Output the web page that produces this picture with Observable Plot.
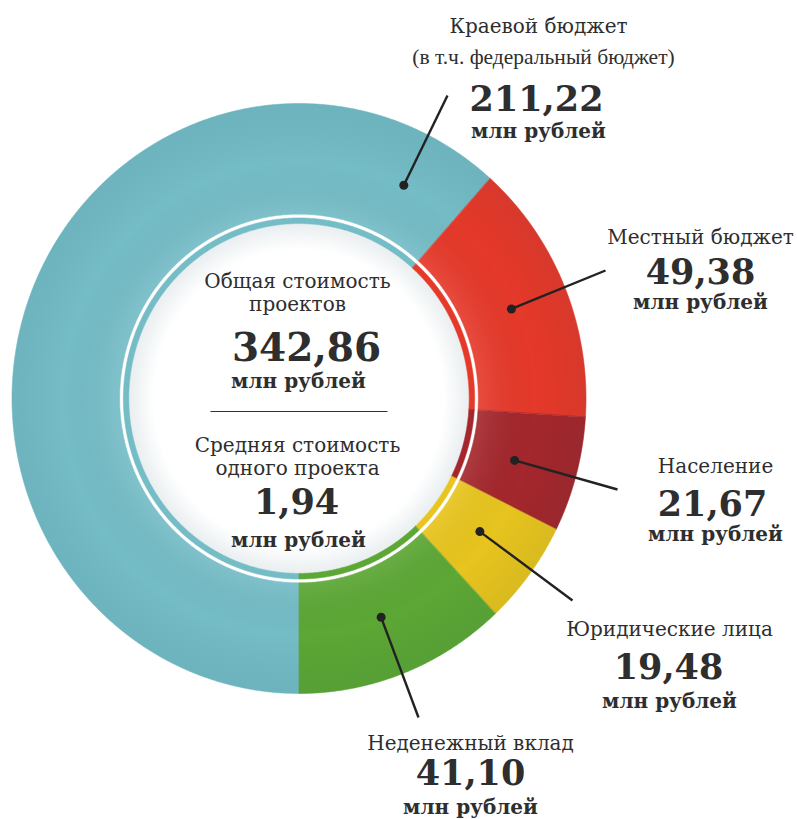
<!DOCTYPE html>
<html><head><meta charset="utf-8">
<script src="https://cdn.jsdelivr.net/npm/d3@7"></script>
<script src="https://cdn.jsdelivr.net/npm/@observablehq/plot@0.6"></script>
<style>html,body{margin:0;padding:0;background:#fff}#chart svg{display:block}</style>
</head><body><div id="chart"></div>
<script>
// ---- data ----
const categories = ["Краевой бюджет", "Местный бюджет", "Население", "Юридические лица", "Неденежный вклад"];
const subtitles = ["(в т.ч. федеральный бюджет)", "", "", "", ""];
const values = [211.22, 49.38, 21.67, 19.48, 41.10];
const valueLabels = ["211,22", "49,38", "21,67", "19,48", "41,10"];
const unitLabel = "млн рублей";
const totalTitle = ["Общая стоимость", "проектов"];
const totalLabel = "342,86";
const averageTitle = ["Средняя стоимость", "одного проекта"];
const averageLabel = "1,94";
const colors = ["#74bcc6", "#e5392a", "#a3272c", "#e7c41e", "#5ca735"];

// ---- layout (pixels) ----
const W = 797, H = 819;
const CX = 298.5, CY = 398, RX = 287, RY = 295;
const X = px => (px - CX) / RX;
const Y = py => (CY - py) / RY;
const rings = [{r0: 0.625, r1: 1}, {r0: 0.593, r1: 0.612}];

// leader lines: dot angle (deg, clockwise from top), dot radius, end point (px)
const leaders = [
  {a: 26.8, r: 0.81, ex: 447, ey: 95},
  {a: 67.7, r: 0.80, ex: 605, ey: 270},
  {a: 105.6, r: 0.78, ex: 617, ey: 489},
  {a: 125.6, r: 0.775, ex: 572, ey: 600},
  {a: 158.9, r: 0.795, ex: 418, ey: 717}
];
// label blocks: name line, value, unit baselines (px)
const labelPos = [
  {x: 538, yName: 32, ySub: 63, yVal: 110, yUnit: 137, xVal: 536},
  {x: 700, yName: 243, yVal: 283, yUnit: 308, xVal: 700},
  {x: 715, yName: 472, yVal: 515, yUnit: 540, xVal: 712},
  {x: 669, yName: 635, yVal: 678, yUnit: 707, xVal: 668},
  {x: 470, yName: 749, yVal: 784, yUnit: 813, xVal: 470}
];

// ---- geometry from values ----
const arcs = d3.pie().sort(null).startAngle(Math.PI).endAngle(3 * Math.PI)(values);
const polys = [];
arcs.forEach((arc, i) => {
  rings.forEach((ring, k) => {
    const n = Math.max(4, Math.ceil((arc.endAngle - arc.startAngle) / 0.005));
    const pts = [];
    for (let j = 0; j <= n; j++) {
      const t = arc.startAngle + (arc.endAngle - arc.startAngle) * j / n;
      pts.push({x: ring.r1 * Math.sin(t), y: ring.r1 * Math.cos(t)});
    }
    for (let j = n; j >= 0; j--) {
      const t = arc.startAngle + (arc.endAngle - arc.startAngle) * j / n;
      pts.push({x: ring.r0 * Math.sin(t), y: ring.r0 * Math.cos(t)});
    }
    pts.forEach(p => polys.push({...p, key: i + "-" + k, cat: categories[i], ring: k}));
  });
});
// inner disc
const disc = d3.range(0, 361, 1).map(d => ({x: 0.593 * Math.sin(d * Math.PI / 180), y: 0.593 * Math.cos(d * Math.PI / 180)}));
// shading overlay over main ring
const shade = [];
for (let d = 0; d <= 360; d += 1) shade.push({x: Math.sin(d * Math.PI / 180), y: Math.cos(d * Math.PI / 180)});
for (let d = 360; d >= 0; d -= 1) shade.push({x: 0.625 * Math.sin(d * Math.PI / 180), y: 0.625 * Math.cos(d * Math.PI / 180)});

const serif = "DejaVu Serif";
const texts = [];
categories.forEach((c, i) => {
  const p = labelPos[i];
  texts.push({t: c, x: X(p.x), y: Y(p.yName), s: 20, w: "normal", f: serif});
  if (subtitles[i]) texts.push({t: subtitles[i], x: X(p.x + 5), y: Y(p.ySub), s: 21.5, w: "normal", f: "Liberation Serif"});
  texts.push({t: valueLabels[i], x: X(p.xVal), y: Y(p.yVal), s: 35, w: "bold", f: serif});
  texts.push({t: unitLabel, x: X(p.x), y: Y(p.yUnit), s: 20, w: "bold", f: serif});
});
texts.push({t: totalTitle[0], x: X(297), y: Y(287), s: 20, w: "normal", f: serif});
texts.push({t: totalTitle[1], x: X(297), y: Y(310), s: 20, w: "normal", f: serif});
texts.push({t: totalLabel, x: X(306), y: Y(360), s: 39, w: "bold", f: serif});
texts.push({t: unitLabel, x: X(298), y: Y(387), s: 20, w: "bold", f: serif});
texts.push({t: averageTitle[0], x: X(297), y: Y(451), s: 20, w: "normal", f: serif});
texts.push({t: averageTitle[1], x: X(297), y: Y(474), s: 20, w: "normal", f: serif});
texts.push({t: averageLabel, x: X(296), y: Y(513), s: 35, w: "bold", f: serif});
texts.push({t: unitLabel, x: X(298), y: Y(546), s: 20, w: "bold", f: serif});

const leaderRows = leaders.map((l, i) => ({
  x1: l.r * Math.sin(l.a * Math.PI / 180), y1: l.r * Math.cos(l.a * Math.PI / 180),
  x2: X(l.ex), y2: Y(l.ey), cat: categories[i]
}));

const fontGroups = d3.groups(texts, d => d.s + "|" + d.w + "|" + d.f);

const chart = Plot.plot({
  width: W, height: H, margin: 0,
  x: {domain: [X(0), X(W)], axis: null},
  y: {domain: [Y(H), Y(0)], axis: null},
  color: {domain: categories, range: colors},
  style: {background: "#fff"},
  marks: [
    Plot.line(disc, {x: "x", y: "y", fill: "url(#discShade)", stroke: "none", curve: "linear-closed"}),
    Plot.line(polys, {x: "x", y: "y", z: "key", fill: "cat", stroke: "cat", strokeWidth: 0.6, curve: "linear-closed"}),
    Plot.line(shade, {x: "x", y: "y", fill: "url(#ringShade)", stroke: "none", curve: "linear-closed"}),
    Plot.link(leaderRows, {x1: "x1", y1: "y1", x2: "x2", y2: "y2", stroke: "#222", strokeWidth: 2.4}),
    Plot.dot(leaderRows, {x: "x1", y: "y1", r: 4.5, fill: "#222", stroke: "none"}),
    Plot.link([{a: X(210), b: X(387), y: Y(411)}], {x1: "a", x2: "b", y1: "y", y2: "y", stroke: "#333", strokeWidth: 1.2}),
    ...fontGroups.map(([k, rows]) => Plot.text(rows, {
      x: "x", y: "y", text: "t", textAnchor: "middle", lineAnchor: "bottom",
      fontSize: rows[0].s, fontWeight: rows[0].w, fontFamily: rows[0].f, fill: "#2e2e2e"
    }))
  ]
});

const svg = d3.select(chart);
const defs = svg.insert("defs", ":first-child");
const rg = defs.append("radialGradient").attr("id", "ringShade").attr("gradientUnits", "userSpaceOnUse")
  .attr("cx", CX).attr("cy", CY).attr("r", RY);
rg.append("stop").attr("offset", 0.62).attr("stop-color", "#fff").attr("stop-opacity", 0.08);
rg.append("stop").attr("offset", 0.8).attr("stop-color", "#000").attr("stop-opacity", 0.0);
rg.append("stop").attr("offset", 1).attr("stop-color", "#00404f").attr("stop-opacity", 0.07);
const dg = defs.append("radialGradient").attr("id", "discShade");
dg.append("stop").attr("offset", 0.85).attr("stop-color", "#ffffff");
dg.append("stop").attr("offset", 1).attr("stop-color", "#e9eef0");
document.getElementById("chart").append(chart);
</script></body></html>
